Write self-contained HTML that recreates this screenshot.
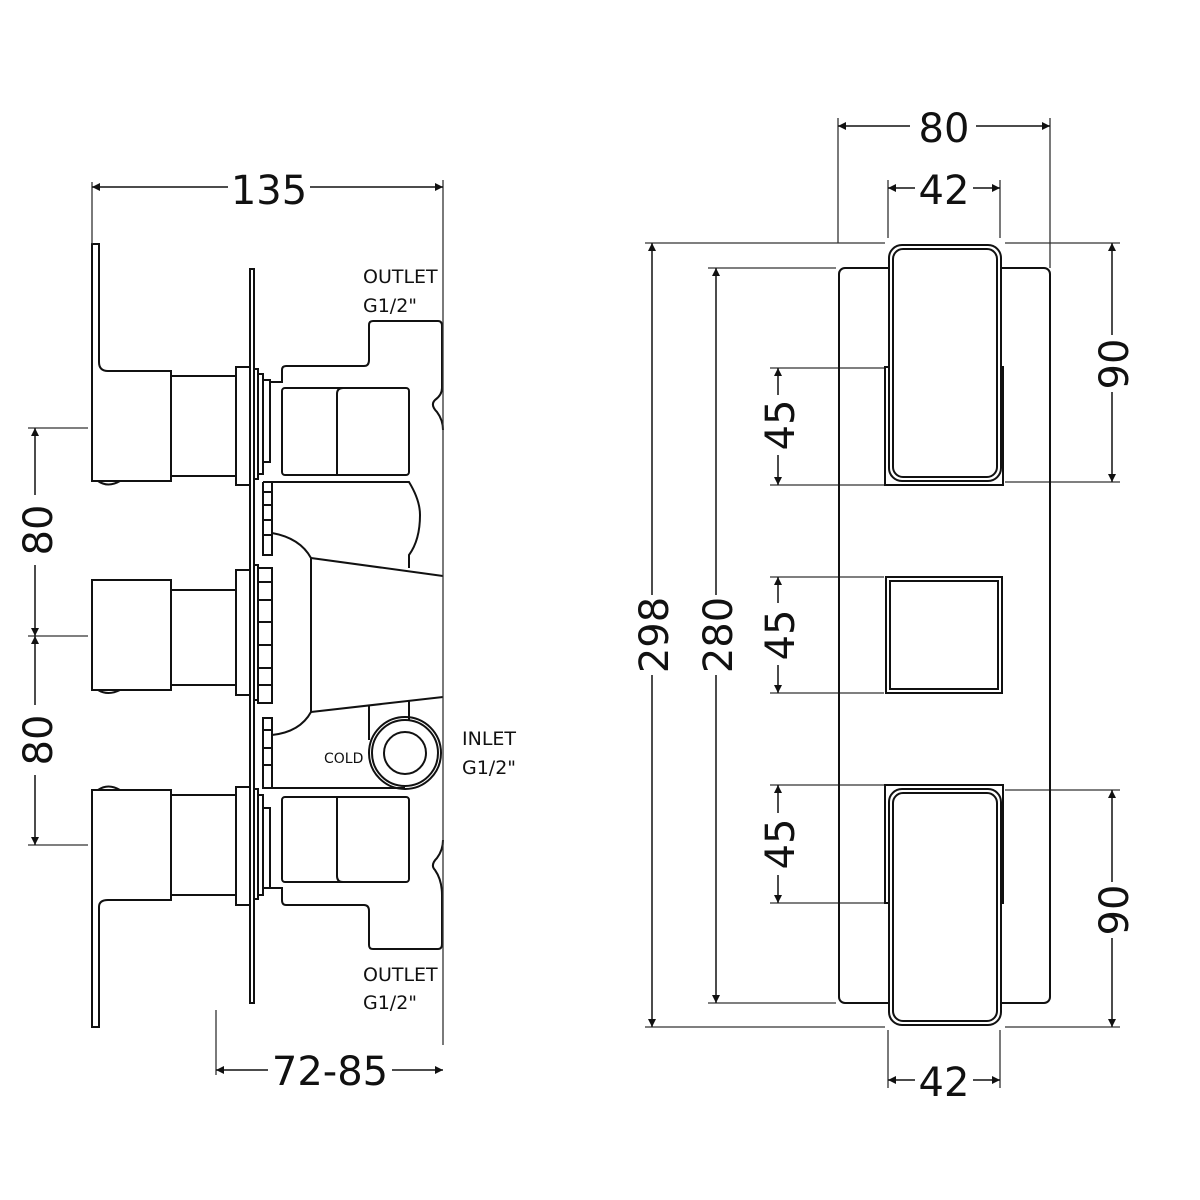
<!DOCTYPE html>
<html><head><meta charset="utf-8"><style>
html,body{margin:0;padding:0;background:#fff}
svg{display:block}
text{font-family:"DejaVu Sans","Liberation Sans",sans-serif;fill:#111}
</style></head><body>
<svg width="1200" height="1200" viewBox="0 0 1200 1200" xmlns="http://www.w3.org/2000/svg">
<defs>
<marker id="a" viewBox="0 0 10 10" refX="10" refY="5" markerWidth="12" markerHeight="8" markerUnits="userSpaceOnUse" orient="auto-start-reverse"><path d="M0,0 L10,5 L0,10 z" fill="#111"/></marker>
</defs>
<g fill="none" stroke="#111" stroke-width="2">
<!-- LEFT VIEW -->
<!-- top lever -->
<path d="M92,244 H99 V362 Q99,371 108,371 H171 V481 H92 Z"/>
<path d="M98,481 Q108,488 120,481"/>
<rect x="171" y="376" width="65" height="100"/>
<rect x="236" y="367" width="14" height="118"/>
<rect x="250" y="269" width="4" height="734"/>
<rect x="254" y="369" width="4" height="110"/>
<rect x="258" y="374" width="5" height="100"/>
<path d="M263,380 H270 V462 H263"/>
<!-- top body -->
<path d="M270,382 H282 V370 Q282,366 286,366 H364 Q369,366 369,360 V325 Q369,321 373,321 H438 Q442,321 442,326 V388 Q442,395 435,400 Q430,405 437,412 Q443,420 443,430"/>
<rect x="282" y="388" width="127" height="87" rx="3"/>
<path d="M337,475 V394 Q337,388 343,388"/>
<path d="M263,482 H409 Q420,500 420,515 Q420,540 409,555 V568"/>
<!-- ribs upper -->
<path d="M263,482 V555 H272 V482 M263,492 H272 M263,505 H272 M263,520 H272 M263,535 H272"/>
<!-- middle handle -->
<rect x="92" y="580" width="79" height="110"/>
<path d="M98,690 Q108,696 120,690"/>
<rect x="171" y="590" width="65" height="95"/>
<rect x="236" y="570" width="14" height="125"/>
<rect x="254" y="565" width="4" height="135"/>
<rect x="258" y="568" width="14" height="135"/>
<path d="M258,582 H272 M258,600 H272 M258,622 H272 M258,645 H272 M258,668 H272 M258,685 H272"/>
<!-- cone -->
<path d="M272,533 Q300,538 311,558 V712 Q300,732 272,735"/>
<path d="M311,558 L443,576"/>
<path d="M311,712 L443,697"/>
<path d="M369,705 V740 M409,700 V720"/>
<!-- cold circle -->
<circle cx="405" cy="753" r="36"/>
<circle cx="405" cy="753" r="33"/>
<circle cx="405" cy="753" r="21"/>
<path d="M263,718 V788 H272 V718 Z M263,730 H272 M263,748 H272 M263,765 H272 M272,788 H405"/>
<!-- bottom handle -->
<path d="M92,1027 H99 V907 Q99,900 108,900 H171 V790 H92 Z"/>
<path d="M98,790 Q108,783 120,790"/>
<rect x="171" y="795" width="65" height="100"/>
<rect x="236" y="787" width="14" height="118"/>
<rect x="254" y="789" width="4" height="110"/>
<rect x="258" y="795" width="5" height="100"/>
<path d="M263,808 H270 V888 H263"/>
<path d="M270,888 H282 V900 Q282,905 286,905 H364 Q369,905 369,911 V945 Q369,949 373,949 H438 Q442,949 442,944 V895 Q442,880 435,870 Q430,865 437,858 Q443,850 443,840"/>
<rect x="282" y="797" width="127" height="85" rx="3"/>
<path d="M337,797 V876 Q337,882 343,882"/>
</g>
<g fill="none" stroke="#333" stroke-width="1.3">
<!-- left dims -->
<line x1="92" y1="182" x2="92" y2="244"/>
<line x1="443" y1="180" x2="443" y2="1045"/>
<line x1="28" y1="428" x2="88" y2="428"/>
<line x1="28" y1="636" x2="88" y2="636"/>
<line x1="28" y1="845" x2="88" y2="845"/>
<line x1="216" y1="1010" x2="216" y2="1075"/>
<!-- right dims ext -->
<line x1="838" y1="118" x2="838" y2="243"/>
<line x1="1050" y1="118" x2="1050" y2="268"/>
<line x1="888" y1="180" x2="888" y2="238"/>
<line x1="1000" y1="180" x2="1000" y2="238"/>
<line x1="645" y1="243" x2="885" y2="243"/>
<line x1="1005" y1="243" x2="1120" y2="243"/>
<line x1="708" y1="268" x2="836" y2="268"/>
<line x1="708" y1="1003" x2="836" y2="1003"/>
<line x1="645" y1="1027" x2="885" y2="1027"/>
<line x1="1005" y1="1027" x2="1120" y2="1027"/>
<line x1="770" y1="368" x2="884" y2="368"/>
<line x1="770" y1="485" x2="884" y2="485"/>
<line x1="1005" y1="482" x2="1120" y2="482"/>
<line x1="770" y1="577" x2="884" y2="577"/>
<line x1="770" y1="693" x2="884" y2="693"/>
<line x1="770" y1="785" x2="884" y2="785"/>
<line x1="770" y1="903" x2="884" y2="903"/>
<line x1="1005" y1="790" x2="1120" y2="790"/>
<line x1="888" y1="1030" x2="888" y2="1088"/>
<line x1="1000" y1="1030" x2="1000" y2="1088"/>
</g>
<g stroke="#111" stroke-width="1.5" fill="none">
<line x1="92" y1="187" x2="228" y2="187" marker-start="url(#a)"/>
<line x1="310" y1="187" x2="443" y2="187" marker-end="url(#a)"/>
<line x1="35" y1="428" x2="35" y2="495" marker-start="url(#a)"/>
<line x1="35" y1="565" x2="35" y2="636" marker-end="url(#a)"/>
<line x1="35" y1="636" x2="35" y2="705" marker-start="url(#a)"/>
<line x1="35" y1="775" x2="35" y2="845" marker-end="url(#a)"/>
<line x1="216" y1="1070" x2="268" y2="1070" marker-start="url(#a)"/>
<line x1="392" y1="1070" x2="443" y2="1070" marker-end="url(#a)"/>
<line x1="838" y1="126" x2="910" y2="126" marker-start="url(#a)"/>
<line x1="976" y1="126" x2="1050" y2="126" marker-end="url(#a)"/>
<line x1="888" y1="188" x2="915" y2="188" marker-start="url(#a)"/>
<line x1="973" y1="188" x2="1000" y2="188" marker-end="url(#a)"/>
<line x1="888" y1="1080" x2="915" y2="1080" marker-start="url(#a)"/>
<line x1="973" y1="1080" x2="1000" y2="1080" marker-end="url(#a)"/>
<line x1="652" y1="243" x2="652" y2="595" marker-start="url(#a)"/>
<line x1="652" y1="675" x2="652" y2="1027" marker-end="url(#a)"/>
<line x1="716" y1="268" x2="716" y2="595" marker-start="url(#a)"/>
<line x1="716" y1="675" x2="716" y2="1003" marker-end="url(#a)"/>
<line x1="778" y1="368" x2="778" y2="395" marker-start="url(#a)"/>
<line x1="778" y1="455" x2="778" y2="485" marker-end="url(#a)"/>
<line x1="778" y1="577" x2="778" y2="603" marker-start="url(#a)"/>
<line x1="778" y1="665" x2="778" y2="693" marker-end="url(#a)"/>
<line x1="778" y1="785" x2="778" y2="813" marker-start="url(#a)"/>
<line x1="778" y1="875" x2="778" y2="903" marker-end="url(#a)"/>
<line x1="1112" y1="243" x2="1112" y2="335" marker-start="url(#a)"/>
<line x1="1112" y1="392" x2="1112" y2="482" marker-end="url(#a)"/>
<line x1="1112" y1="790" x2="1112" y2="882" marker-start="url(#a)"/>
<line x1="1112" y1="938" x2="1112" y2="1027" marker-end="url(#a)"/>
</g>
<!-- RIGHT VIEW -->
<g fill="none" stroke="#111" stroke-width="2">
<rect x="839" y="268" width="211" height="735" rx="6"/>
<rect x="885" y="367" width="118" height="118" fill="#fff"/>
<rect x="889" y="245" width="112" height="236" rx="13" fill="#fff"/>
<rect x="893" y="249" width="104" height="228" rx="10"/>
<rect x="886" y="577" width="116" height="116" fill="#fff"/>
<rect x="890" y="581" width="108" height="108"/>
<rect x="885" y="785" width="118" height="118" fill="#fff"/>
<rect x="889" y="789" width="112" height="236" rx="13" fill="#fff"/>
<rect x="893" y="793" width="104" height="228" rx="10"/>
</g>
<g font-size="40" text-anchor="middle">
<text x="269" y="204">135</text>
<text x="330" y="1085">72-85</text>
<text x="944" y="142">80</text>
<text x="944" y="204">42</text>
<text x="944" y="1096">42</text>
<text transform="translate(52,530) rotate(-90)">80</text>
<text transform="translate(52,740) rotate(-90)">80</text>
<text transform="translate(668,635) rotate(-90)">298</text>
<text transform="translate(732,635) rotate(-90)">280</text>
<text transform="translate(794,425) rotate(-90)">45</text>
<text transform="translate(794,635) rotate(-90)">45</text>
<text transform="translate(794,844) rotate(-90)">45</text>
<text transform="translate(1128,364) rotate(-90)">90</text>
<text transform="translate(1128,910) rotate(-90)">90</text>
</g>
<g font-size="19">
<text x="363" y="283">OUTLET</text>
<text x="363" y="312">G1/2"</text>
<text x="363" y="981">OUTLET</text>
<text x="363" y="1009">G1/2"</text>
<text x="462" y="745">INLET</text>
<text x="462" y="774">G1/2"</text>
<text x="324" y="763" font-size="14">COLD</text>
</g>
</svg>
</body></html>
